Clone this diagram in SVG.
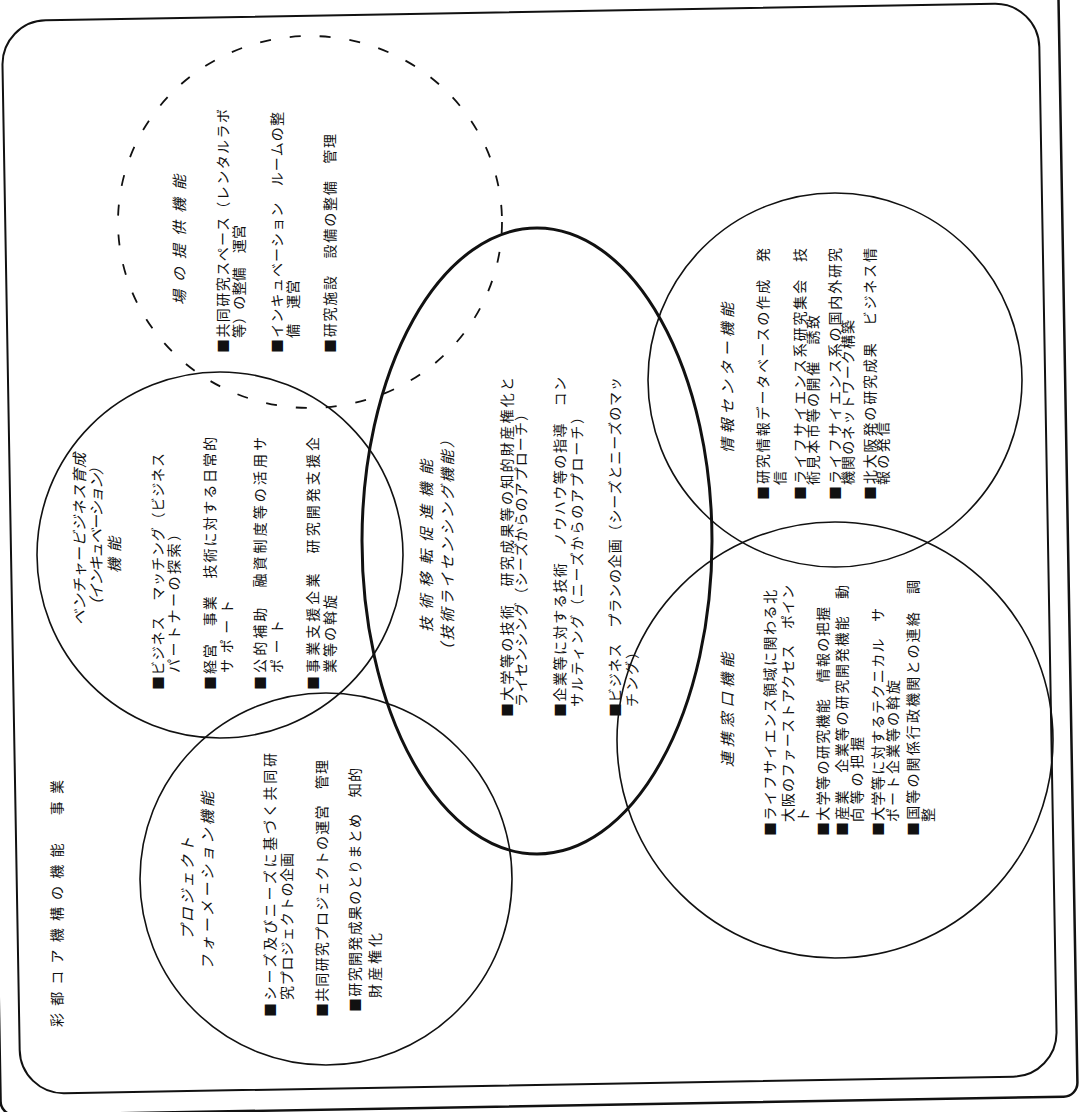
<svg xmlns="http://www.w3.org/2000/svg" width="1080" height="1112" viewBox="0 0 1080 1112">
<style>
.t{font-family:"Noto Sans CJK JP","Noto Sans CJK SC",sans-serif;font-size:14px;fill:#111;}
.h{font-style:italic;font-size:15px;}
.c{fill:none;stroke:#111;stroke-width:1.6;}
.thick{fill:none;stroke:#111;stroke-width:3;}
.dash{fill:none;stroke:#111;stroke-width:1.8;stroke-dasharray:11 19;}
.frame{fill:none;stroke:#111;stroke-width:2;}
</style>
<rect width="1080" height="1112" fill="#fff"/>
<g id="frame" transform="rotate(-1 530 548)">
<rect class="frame" x="11" y="12" width="1037" height="1073" rx="44"/>
<rect class="frame" x="-9" y="-30" width="1077" height="1136" rx="14" style="stroke-width:2.5"/>
</g>
<g id="title">
<text class="t" transform="translate(62,1027) rotate(-90)" textLength="247" lengthAdjust="spacing">彩都コア機構の機能　事業</text>
</g>
<g id="node-place">
<ellipse class="dash" cx="310" cy="222" rx="192" ry="186"/>
<text class="t h" transform="translate(185,305) rotate(-90)" textLength="130" lengthAdjust="spacing">場の提供機能</text>
<text class="t" transform="translate(228,353) rotate(-90)" textLength="244" lengthAdjust="spacing">■共同研究スペース（レンタルラボ</text>
<text class="t" transform="translate(244,338) rotate(-90)" textLength="113" lengthAdjust="spacing">等）の整備　運営</text>
<text class="t" transform="translate(282,353) rotate(-90)" textLength="241" lengthAdjust="spacing">■インキュベーション　ルームの整</text>
<text class="t" transform="translate(298,338) rotate(-90)" textLength="58" lengthAdjust="spacing">備　運営</text>
<text class="t" transform="translate(335,353) rotate(-90)" textLength="219" lengthAdjust="spacing">■研究施設　設備の整備　管理</text>
</g>
<g id="node-venture">
<circle class="c" cx="220" cy="555" r="183"/>
<text class="t h" transform="translate(85,625) rotate(-90)" textLength="172" lengthAdjust="spacing">ベンチャービジネス育成</text>
<text class="t h" transform="translate(102,613) rotate(-90)" textLength="153" lengthAdjust="spacing">（インキュベーション）</text>
<text class="t h" transform="translate(120,573) rotate(-90)" textLength="36" lengthAdjust="spacing">機能</text>
<text class="t" transform="translate(163,690) rotate(-90)" textLength="237" lengthAdjust="spacing">■ビジネス　マッチング（ビジネス</text>
<text class="t" transform="translate(179,673) rotate(-90)" textLength="146" lengthAdjust="spacing">パートナーの探索）</text>
<text class="t" transform="translate(215,690) rotate(-90)" textLength="253" lengthAdjust="spacing">■経営　事業　技術に対する日常的</text>
<text class="t" transform="translate(232,673) rotate(-90)" textLength="73" lengthAdjust="spacing">サポート</text>
<text class="t" transform="translate(265,690) rotate(-90)" textLength="253" lengthAdjust="spacing">■公的補助　融資制度等の活用サ</text>
<text class="t" transform="translate(282,673) rotate(-90)" textLength="53" lengthAdjust="spacing">ポート</text>
<text class="t" transform="translate(318,690) rotate(-90)" textLength="253" lengthAdjust="spacing">■事業支援企業　研究開発支援企</text>
<text class="t" transform="translate(335,673) rotate(-90)" textLength="78" lengthAdjust="spacing">業等の斡旋</text>
</g>
<g id="node-project">
<circle class="c" cx="326" cy="879" r="186"/>
<text class="t h" transform="translate(193,940) rotate(-90)" textLength="103" lengthAdjust="spacing">プロジェクト</text>
<text class="t h" transform="translate(213,970) rotate(-90)" textLength="178" lengthAdjust="spacing">フォーメーション機能</text>
<text class="t" transform="translate(275,1017) rotate(-90)" textLength="264" lengthAdjust="spacing">■シーズ及びニーズに基づく共同研</text>
<text class="t" transform="translate(292,1000) rotate(-90)" textLength="147" lengthAdjust="spacing">究プロジェクトの企画</text>
<text class="t" transform="translate(327,1017) rotate(-90)" textLength="257" lengthAdjust="spacing">■共同研究プロジェクトの運営　管理</text>
<text class="t" transform="translate(360,1012) rotate(-90)" textLength="244" lengthAdjust="spacing">■研究開発成果のとりまとめ　知的</text>
<text class="t" transform="translate(380,998) rotate(-90)" textLength="65" lengthAdjust="spacing">財産権化</text>
</g>
<g id="node-transfer">
<ellipse class="thick" cx="537" cy="541" rx="175" ry="313"/>
<text class="t h" transform="translate(432,632) rotate(-90)" textLength="172" lengthAdjust="spacing">技術移転促進機能</text>
<text class="t h" transform="translate(453,658) rotate(-90)" textLength="225" lengthAdjust="spacing">（技術ライセンシング機能）</text>
<text class="t" transform="translate(512,717) rotate(-90)" textLength="340" lengthAdjust="spacing">■大学等の技術　研究成果等の知的財産権化と</text>
<text class="t" transform="translate(526,707) rotate(-90)" textLength="300" lengthAdjust="spacing">ライセンシング（シーズからのアプローチ）</text>
<text class="t" transform="translate(565,717) rotate(-90)" textLength="340" lengthAdjust="spacing">■企業等に対する技術　ノウハウ等の指導　コン</text>
<text class="t" transform="translate(582,707) rotate(-90)" textLength="297" lengthAdjust="spacing">サルティング（ニーズからのアプローチ）</text>
<text class="t" transform="translate(620,717) rotate(-90)" textLength="340" lengthAdjust="spacing">■ビジネス　プランの企画（シーズとニーズのマッ</text>
<text class="t" transform="translate(637,707) rotate(-90)" textLength="62" lengthAdjust="spacing">チング）</text>
</g>
<g id="node-info">
<circle class="c" cx="835" cy="380" r="187"/>
<text class="t h" transform="translate(733,453) rotate(-90)" textLength="150" lengthAdjust="spacing">情報センター機能</text>
<text class="t" transform="translate(768,500) rotate(-90)" textLength="252" lengthAdjust="spacing">■研究情報データベースの作成　発</text>
<text class="t" transform="translate(785,485) rotate(-90)">信</text>
<text class="t" transform="translate(805,500) rotate(-90)" textLength="252" lengthAdjust="spacing">■ライフサイエンス系研究集会　技</text>
<text class="t" transform="translate(818,485) rotate(-90)" textLength="170" lengthAdjust="spacing">術見本市等の開催　誘致</text>
<text class="t" transform="translate(840,500) rotate(-90)" textLength="252" lengthAdjust="spacing">■ライフサイエンス系の国内外研究</text>
<text class="t" transform="translate(853,485) rotate(-90)" textLength="165" lengthAdjust="spacing">機関のネットワーク構築</text>
<text class="t" transform="translate(875,500) rotate(-90)" textLength="252" lengthAdjust="spacing">■北大阪発の研究成果　ビジネス情</text>
<text class="t" transform="translate(888,485) rotate(-90)" textLength="63" lengthAdjust="spacing">報の発信</text>
</g>
<g id="node-liaison">
<circle class="c" cx="835" cy="740" r="218"/>
<text class="t h" transform="translate(733,767) rotate(-90)" textLength="114" lengthAdjust="spacing">連携窓口機能</text>
<text class="t" transform="translate(775,836) rotate(-90)" textLength="246" lengthAdjust="spacing">■ライフサイエンス領域に関わる北</text>
<text class="t" transform="translate(793,822) rotate(-90)" textLength="237" lengthAdjust="spacing">大阪のファーストアクセス　ポイン</text>
<text class="t" transform="translate(808,822) rotate(-90)">ト</text>
<text class="t" transform="translate(828,836) rotate(-90)" textLength="229" lengthAdjust="spacing">■大学等の研究機能　情報の把握</text>
<text class="t" transform="translate(847,836) rotate(-90)" textLength="251" lengthAdjust="spacing">■産業　企業等の研究開発機能　動</text>
<text class="t" transform="translate(862,822) rotate(-90)" textLength="85" lengthAdjust="spacing">向等の把握</text>
<text class="t" transform="translate(883,836) rotate(-90)" textLength="228" lengthAdjust="spacing">■大学等に対するテクニカル　サ</text>
<text class="t" transform="translate(898,822) rotate(-90)" textLength="142" lengthAdjust="spacing">ポート企業等の斡旋</text>
<text class="t" transform="translate(918,836) rotate(-90)" textLength="256" lengthAdjust="spacing">■国等の関係行政機関との連絡　調</text>
<text class="t" transform="translate(933,822) rotate(-90)">整</text>
</g>
</svg>
